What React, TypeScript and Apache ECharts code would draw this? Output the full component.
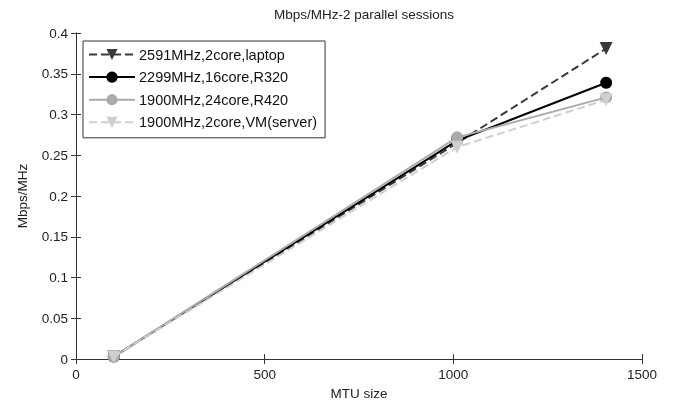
import React, { useEffect, useRef } from "react";
import * as echarts from "echarts";

const mtu = [100, 1010, 1405];
const seriesNames = [
  "2591MHz,2core,laptop",
  "2299MHz,16core,R320",
  "1900MHz,24core,R420",
  "1900MHz,2core,VM(server)",
];
const laptop = [0.003, 0.265, 0.381];
const r320 = [0.003, 0.268, 0.339];
const r420 = [0.003, 0.272, 0.321];
const vm = [0.003, 0.26, 0.318];
const xTicks = [0, 500, 1000, 1500];
const yTicks = [0, 0.05, 0.1, 0.15, 0.2, 0.25, 0.3, 0.35, 0.4];

export default function App() {
  const ref = useRef<HTMLDivElement>(null);
  useEffect(() => {
    if (!ref.current) return;
    const chart = echarts.init(ref.current, undefined, { renderer: "svg" });
    const font = "Liberation Sans, Arial, sans-serif";
    const pair = (ys: number[]) => mtu.map((x, i) => [x, ys[i]]);
    const styles = [
      { color: "#3a3a3a", type: "dashed", symbol: "triangle", rotate: 180, size: 13 },
      { color: "#000000", type: "solid", symbol: "circle", rotate: 0, size: 12 },
      { color: "#ababab", type: "solid", symbol: "circle", rotate: 0, size: 12 },
      { color: "#cfcfcf", type: "dashed", symbol: "triangle", rotate: 180, size: 13 },
    ];
    const datas = [laptop, r320, r420, vm];
    const axisLine = { show: true, lineStyle: { color: "#333", width: 1 } };
    const tickStyle = { show: true, inside: true, length: 5, lineStyle: { color: "#333" } };
    chart.setOption({
      animation: false,
      title: {
        text: "Mbps/MHz-2 parallel sessions",
        left: 359,
        top: 2,
        textAlign: "center",
        textStyle: { fontFamily: font, fontSize: 13.5, fontWeight: "normal", color: "#222" },
      },
      grid: { left: 76, right: 33, top: 33, bottom: 45 },
      legend: {
        orient: "vertical",
        left: 83,
        top: 41,
        itemWidth: 46,
        itemHeight: 14,
        itemGap: 7.6,
        padding: [6, 8, 8, 5],
        borderColor: "#333",
        borderWidth: 1,
        borderRadius: 0,
        backgroundColor: "#fff",
        textStyle: { fontFamily: font, fontSize: 14.5, color: "#111", padding: [0, 0, 0, -1] },
        data: seriesNames,
      },
      xAxis: [
        {
          type: "value",
          min: 0,
          max: 1500,
          interval: 500,
          name: "MTU size",
          nameLocation: "middle",
          nameGap: 22,
          nameTextStyle: { fontFamily: font, fontSize: 13.5, color: "#222" },
          axisLine,
          axisTick: tickStyle,
          splitLine: { show: false },
          axisLabel: {
            fontFamily: font,
            fontSize: 13.5,
            color: "#222",
            margin: 8,
            formatter: (v: number) => String(v),
          },
        },
        {
          type: "value",
          position: "top",
          min: 0,
          max: 1500,
          interval: 500,
          axisLine,
          axisTick: tickStyle,
          splitLine: { show: false },
          axisLabel: { show: false },
        },
      ],
      yAxis: [
        {
          type: "value",
          min: 0,
          max: 0.4,
          interval: 0.05,
          name: "Mbps/MHz",
          nameLocation: "middle",
          nameGap: 47,
          nameTextStyle: { fontFamily: font, fontSize: 13.5, color: "#222" },
          axisLine,
          axisTick: tickStyle,
          splitLine: { show: false },
          axisLabel: {
            fontFamily: font,
            fontSize: 13.5,
            color: "#222",
            margin: 8,
            formatter: (v: number) => String(v),
          },
        },
        {
          type: "value",
          position: "right",
          min: 0,
          max: 0.4,
          interval: 0.05,
          axisLine,
          axisTick: tickStyle,
          splitLine: { show: false },
          axisLabel: { show: false },
        },
      ],
      series: seriesNames.map((name, i) => ({
        name,
        type: "line",
        data: pair(datas[i]),
        symbol: styles[i].symbol,
        symbolRotate: styles[i].rotate,
        symbolSize: styles[i].size,
        lineStyle: { color: styles[i].color, width: 2, type: styles[i].type },
        itemStyle: { color: styles[i].color },
        z: 2 + i,
      })),
    });
    return () => chart.dispose();
  }, []);
  return (
    <div
      ref={ref}
      style={{ position: "fixed", left: 0, top: 0, width: 675, height: 405 }}
    />
  );
}
